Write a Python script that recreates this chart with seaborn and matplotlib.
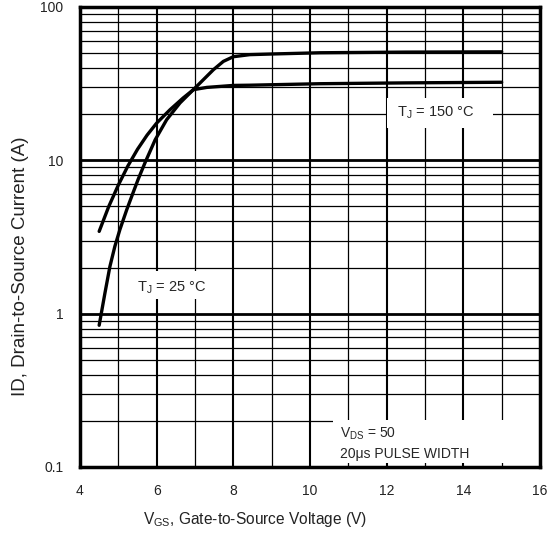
import numpy as np
import pandas as pd
import matplotlib
matplotlib.use("Agg")
import matplotlib.pyplot as plt
from matplotlib.patches import Rectangle
import seaborn as sns

# ---- data ----
vgs_25 = [4.50, 4.65, 4.78, 4.91, 5.04, 5.22, 5.39, 5.52, 5.70, 5.96, 6.26, 6.61,
          6.87, 7.22, 7.48, 7.74, 8.00, 8.43, 9.04, 10.26, 12.5, 15.0]
id_25 = [0.84, 1.36, 2.03, 2.75, 3.53, 4.77, 6.2, 7.55, 9.7, 13.6, 18.4, 23.7,
         27.5, 33.6, 39.0, 44.2, 47.4, 48.9, 49.4, 50.3, 50.8, 51.0]

vgs_150 = [4.50, 4.75, 5.00, 5.25, 5.50, 5.75, 6.00, 6.35, 6.69, 6.96, 7.31,
           8.00, 8.43, 10.26, 12.5, 15.0]
id_150 = [3.44, 5.0, 6.9, 9.2, 11.8, 14.6, 17.5, 21.4, 25.5, 28.9, 29.9,
          30.8, 30.9, 31.6, 32.0, 32.3]

x_ticks = [4, 6, 8, 10, 12, 14, 16]
y_ticks = [0.1, 1, 10, 100]
y_tick_labels = ["0.1", "1", "10", "100"]

df = pd.concat([
    pd.DataFrame({"VGS": vgs_25, "ID": id_25, "T": "25"}),
    pd.DataFrame({"VGS": vgs_150, "ID": id_150, "T": "150"}),
])

sns.set_style("white")
plt.rcParams["font.family"] = ["Liberation Sans", "DejaVu Sans"]
plt.rcParams["mathtext.default"] = "regular"

fig = plt.figure(figsize=(5.59, 5.33), dpi=100)
ax = fig.add_axes([80 / 559, 1 - 467 / 533, 460 / 559, 460 / 533])

# grid
for xv in range(5, 16):
    ax.axvline(xv, color="black", lw=1.5 if xv % 2 == 0 else 0.9, zorder=1)
for dec in [0.1, 1, 10]:
    for m in range(1, 10):
        yv = dec * m
        if yv <= 0.1:
            continue
        ax.axhline(yv, color="black", lw=2.0 if m == 1 else 0.9, zorder=1)

sns.lineplot(data=df, x="VGS", y="ID", units="T", estimator=None,
             color="black", lw=2.4, ax=ax, zorder=3, legend=False)

ax.set_yscale("log")
ax.set_xlim(4, 16)
ax.set_ylim(0.1, 100)
ax.set_xticks(x_ticks)
ax.set_xticklabels([str(v) for v in x_ticks])
ax.set_yticks(y_ticks)
ax.set_yticklabels(y_tick_labels)
ax.yaxis.set_minor_locator(matplotlib.ticker.NullLocator())
ax.tick_params(axis="both", length=0, pad=12, labelsize=10, labelcolor="#222222")

for s in ax.spines.values():
    s.set_visible(True)
    s.set_color("black")
    s.set_linewidth(2.5)
    s.set_zorder(5)

ax.set_xlabel(r"V$_{GS}$, Gate-to-Source Voltage (V)", fontsize=11.2, color="#222222")
ax.set_ylabel("ID, Drain-to-Source Current (A)", fontsize=13.5, color="#222222")
ax.xaxis.set_label_coords(0.3815, -0.093)
ax.yaxis.set_label_coords(-0.11, 0.437)

# white label areas
ax.add_patch(Rectangle((0.667, 0.737), 0.231, 0.065, transform=ax.transAxes,
                       facecolor="white", edgecolor="none", zorder=2))
ax.add_patch(Rectangle((0.55, 0.009), 0.45, 0.093, transform=ax.transAxes,
                       facecolor="white", edgecolor="none", zorder=2))
ax.add_patch(Rectangle((0.115, 0.366), 0.16, 0.061, transform=ax.transAxes,
                       facecolor="white", edgecolor="none", zorder=2))

ax.text(12.26, 20.4, "T$_J$ = 150 °C", fontsize=10.5, va="center", ha="left", zorder=4)
ax.text(5.48, 1.47, "T$_J$ = 25 °C", fontsize=10.5, va="center", ha="left", zorder=4)
ax.text(10.78, 0.1435, "V$_{DS}$ = 50\n20μs PULSE WIDTH", fontsize=10, va="center",
        ha="left", linespacing=1.45, zorder=4)

fig.savefig("out.png", dpi=100)
